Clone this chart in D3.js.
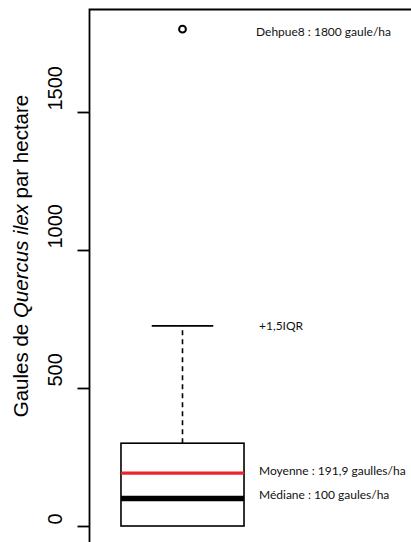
<!DOCTYPE html>
<html>
<head>
<meta charset="utf-8">
<script src="https://cdn.jsdelivr.net/npm/d3@7"></script>
<style>
  html, body { margin: 0; padding: 0; background: #fff; }
  svg { display: block; }
</style>
</head>
<body>
<svg id="chart" width="411" height="542"></svg>
<script>
// ---- data ----
const categories = ["Quercus ilex"];
const boxQ1 = [0];
const boxMedian = [100];
const boxMean = [191.9];
const boxQ3 = [300];
const boxUpperWhisker = [725];
const outliers = [1800];
const tickValues = [0, 500, 1000, 1500];
const annotationTexts = ["Dehpue8 : 1800 gaule/ha", "+1,5IQR", "Moyenne : 191,9 gaulles/ha", "Médiane : 100 gaules/ha"];
const annotationValues = [1800, 725, 191.9, 100];

// ---- layout ----
const W = 411, H = 542;
const frameLeft = 89.5, frameTop = 9.5;
const yZero = 526, yTop1500 = 112;
const titleX = 28, titleCenterY = 256;
const annX = [256, 259, 259, 259];
const nudges = [3, 0, -2, -4];

const svg = d3.select("#chart");

const y = d3.scaleLinear().domain([0, 1500]).range([yZero, yTop1500]);
const x = d3.scaleBand().domain(categories).range([89, 276]).paddingInner(0).paddingOuter(0.26);

// frame (left and top edges visible, rest cropped)
svg.append("path")
  .attr("d", `M${frameLeft},${H + 2} V${frameTop} H${W + 2}`)
  .attr("fill", "none").attr("stroke", "#000").attr("stroke-width", 1.8);

// y axis
const axis = d3.axisLeft(y).tickValues(tickValues).tickSize(12).tickFormat(d3.format("d"));
const gAxis = svg.append("g").attr("transform", `translate(${frameLeft},0)`).call(axis);
gAxis.select(".domain").remove();
gAxis.selectAll(".tick line").attr("stroke", "#000").attr("stroke-width", 1.8);
gAxis.selectAll(".tick text")
  .attr("transform", "rotate(-90)")
  .attr("x", 2).attr("y", -28).attr("dy", 0)
  .attr("text-anchor", "start")
  .attr("font-family", "Liberation Sans, Arial, sans-serif")
  .attr("font-size", 20)
  .attr("fill", "#000");

// y axis title
const title = svg.append("text")
  .attr("transform", `translate(${titleX},${titleCenterY}) rotate(-90)`)
  .attr("text-anchor", "middle")
  .attr("font-family", "Liberation Sans, Arial, sans-serif")
  .attr("font-size", 20.5)
  .attr("fill", "#000");
title.append("tspan").text("Gaules de ");
title.append("tspan").attr("font-style", "italic").text("Quercus ilex");
title.append("tspan").text(" par hectare");

// box plot
const cat = categories[0];
const bx = x(cat), bw = x.bandwidth(), cx = bx + bw / 2;
const g = svg.append("g");

// whisker dashed
g.append("line")
  .attr("x1", cx).attr("x2", cx)
  .attr("y1", y(boxQ3[0])).attr("y2", y(boxUpperWhisker[0]))
  .attr("stroke", "#000").attr("stroke-width", 1.6).attr("stroke-dasharray", "5,4");
// staple
g.append("line")
  .attr("x1", cx - bw / 4).attr("x2", cx + bw / 4)
  .attr("y1", y(boxUpperWhisker[0])).attr("y2", y(boxUpperWhisker[0]))
  .attr("stroke", "#000").attr("stroke-width", 1.6);

// box
g.append("rect")
  .attr("x", bx).attr("y", y(boxQ3[0]))
  .attr("width", bw).attr("height", y(boxQ1[0]) - y(boxQ3[0]))
  .attr("fill", "none").attr("stroke", "#000").attr("stroke-width", 1.6);

// mean (red)
g.append("line")
  .attr("x1", bx).attr("x2", bx + bw)
  .attr("y1", y(boxMean[0])).attr("y2", y(boxMean[0]))
  .attr("stroke", "#e8262b").attr("stroke-width", 3.2);

// median (thick black)
g.append("line")
  .attr("x1", bx).attr("x2", bx + bw)
  .attr("y1", y(boxMedian[0])).attr("y2", y(boxMedian[0]))
  .attr("stroke", "#000").attr("stroke-width", 5.5);

// outliers
g.selectAll("circle.out").data(outliers).enter().append("circle")
  .attr("class", "out")
  .attr("cx", cx).attr("cy", d => y(d)).attr("r", 3.4)
  .attr("fill", "none").attr("stroke", "#000").attr("stroke-width", 2);

// annotations
svg.selectAll("text.ann").data(annotationTexts).enter().append("text")
  .attr("class", "ann")
  .attr("x", (d, i) => annX[i])
  .attr("y", (d, i) => y(annotationValues[i]) + nudges[i])
  .attr("dy", "0.35em")
  .attr("font-family", "Lato, 'Open Sans', sans-serif")
  .attr("font-size", 12)
  .attr("fill", "#111")
  .text(d => d);
</script>
</body>
</html>
